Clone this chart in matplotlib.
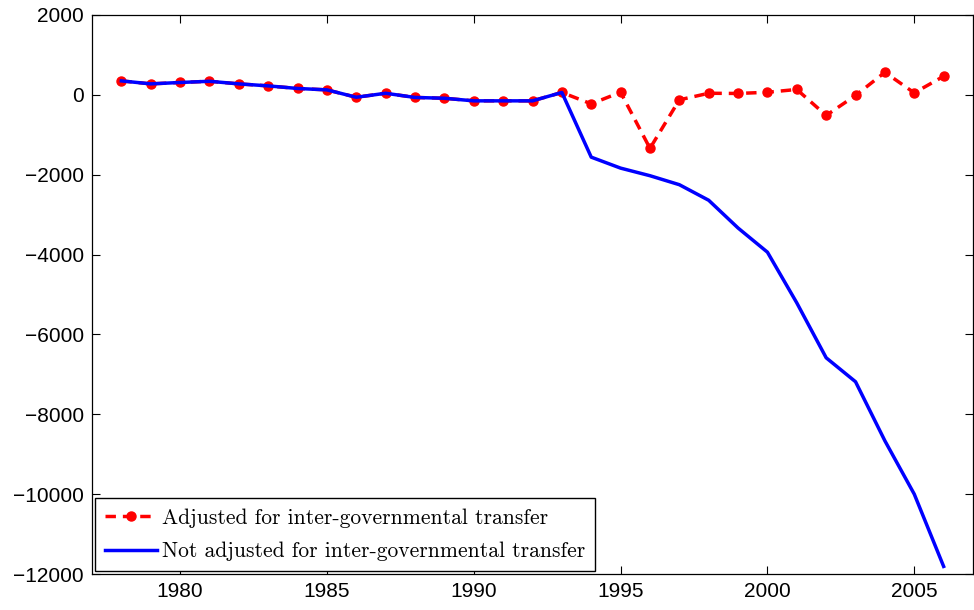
import matplotlib.pyplot as plt

years = list(range(1978, 2007))

# adjusted for inter-governmental transfer
adjusted = [350, 275, 310, 340, 275, 225, 160, 125, -60, 40, -65, -85, -150, -150,
            -150, 60, -225, 65, -1340, -125, 40, 35, 65, 135, -515, -15, 565, 50, 465]

# not adjusted
not_adjusted = [350, 275, 310, 340, 275, 225, 160, 125, -60, 40, -65, -85, -150, -150,
                -150, 60, -1560, -1835, -2025, -2250, -2640, -3335, -3940, -5210, -6585,
                -7185, -8665, -10000, -11810]

xticks = [1980, 1985, 1990, 1995, 2000, 2005]
yticks = list(range(-12000, 2001, 2000))

plt.rcParams['font.family'] = ['Liberation Sans', 'DejaVu Sans']

fig = plt.figure(figsize=(9.74, 6.1), dpi=100)
ax = fig.add_axes([92 / 974, 36 / 610, 881 / 974, 559 / 610])

ax.plot(years, adjusted, color='red', linestyle='--', dashes=(3.0, 2.0), linewidth=2.5,
        marker='o', markersize=6.5, label='Adjusted for inter-governmental transfer')
ax.plot(years, not_adjusted, color='blue', linewidth=2.5,
        label='Not adjusted for inter-governmental transfer')

ax.set_xlim(1977, 2007)
ax.set_ylim(-12000, 2000)
ax.set_xticks(xticks)
ax.set_yticks(yticks)
ax.set_yticklabels(['\u2212' + str(-v) if v < 0 else str(v) for v in yticks])
ax.tick_params(direction='in', length=6, width=0.8, labelsize=15, top=True, right=True, pad=6)
for sp in ax.spines.values():
    sp.set_linewidth(0.9)

leg = ax.legend(loc='lower left', fancybox=False, edgecolor='black', framealpha=1,
                borderaxespad=0.15, handlelength=2.4, handletextpad=0.25, numpoints=1,
                borderpad=0.45, labelspacing=0.65,
                prop={'family': 'cmr10', 'size': 15.5})
leg.get_frame().set_linewidth(1.0)

fig.savefig('out.png', dpi=100)
